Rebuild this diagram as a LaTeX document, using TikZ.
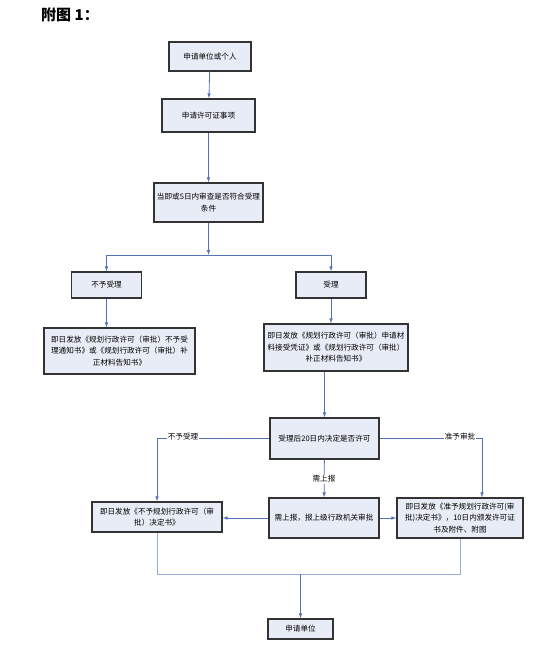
\documentclass[tikz,border=0pt]{standalone}
\usepackage{fontspec}
\setmainfont{Noto Sans CJK SC}
\usepackage{tikz}
\usetikzlibrary{arrows.meta}
\definecolor{boxfill}{HTML}{E8ECF6}
\definecolor{flowblue}{HTML}{5572B8}
\definecolor{paleblue}{HTML}{9AAAD6}
\tikzset{
  stepbox/.style={draw=black!80, line width=1.1pt, fill=boxfill, align=center, inner sep=1pt, font=\fontsize{7.6}{11.5}\selectfont},
  flow/.style={draw=flowblue, line width=0.8pt, -{Latex[length=5pt,width=3.6pt]}},
  plain/.style={draw=flowblue, line width=0.8pt},
  pale/.style={draw=paleblue, line width=0.9pt},
  tag/.style={fill=white, inner sep=1pt, font=\fontsize{7.6}{9}\selectfont}
}

\begin{document}
\begin{tikzpicture}[x=1pt,y=-1pt]
    \useasboundingbox (0,0) rectangle (553,666);
    \node[font=\bfseries\fontsize{15}{18}\selectfont] (title) at (70,15) {附图 1：};
    \node[stepbox, minimum width=82pt, minimum height=29pt] (apply) at (210,56.5) {申请单位或个人};
    \node[stepbox, minimum width=93pt, minimum height=33pt] (item) at (208.5,115.5) {申请许可证事项};
    \node[stepbox, minimum width=109pt, minimum height=39pt] (check) at (208.5,202.5) {当即或5日内审查是否符合受理\\条件};
    \node[stepbox, minimum width=70pt, minimum height=26pt] (reject) at (106.5,285) {不予受理};
    \node[stepbox, minimum width=70pt, minimum height=26pt] (accept) at (331,285) {受理};
    \node[stepbox, minimum width=151pt, minimum height=46pt] (rejnote) at (119.5,351) {即日发放《规划行政许可（审批）不予受\\理通知书》或《规划行政许可（审批）补\\正材料告知书》};
    \node[stepbox, minimum width=144pt, minimum height=47pt] (accnote) at (336,347.5) {即日发放《规划行政许可（审批）申请材\\料接受凭证》或《规划行政许可（审批）\\补正材料告知书》};
    \node[stepbox, minimum width=109pt, minimum height=41pt] (decide) at (324.5,438.5) {受理后20日内决定是否许可};
    \node[stepbox, minimum width=110pt, minimum height=40pt] (report) at (324,518) {需上报，报上级行政机关审批};
    \node[stepbox, minimum width=130pt, minimum height=30pt] (denied) at (157,517) {即日发放《不予规划行政许可（审\\批）决定书》};
    \node[stepbox, minimum width=126pt, minimum height=40pt] (granted) at (460,518) {即日发放《准予规划行政许可(审\\批)决定书》，10日内颁发许可证\\书及附件、附图};
    \node[stepbox, minimum width=65pt, minimum height=20pt] (final) at (300.5,629) {申请单位};
    \coordinate (split) at (check.south |- 0,255);
    \coordinate (join) at (final.north |- 0,574);
    \draw[flow] (apply) -- (item);
    \draw[flow] (item) -- (check);
    \draw[flow] (check) -- (split);
    \draw[plain] (reject.north |- split) -- (accept.north |- split);
    \draw[flow] (reject.north |- split) -- (reject);
    \draw[flow] (accept.north |- split) -- (accept);
    \draw[flow] (reject) -- (reject |- rejnote.north);
    \draw[flow] (accept) -- (accept |- accnote.north);
    \draw[flow] (decide.north |- accnote.south) -- (decide);
    \draw[flow] (decide.west) -| (denied.north);
    \draw[flow] (decide.east) -| ([xshift=22pt]granted.north);
    \draw[flow] (decide) -- (report);
    \draw[flow] (report) -- (report.west -| denied.east);
    \draw[flow] (report) -- (granted);
    \node[tag] at (183,437) {不予受理};
    \node[tag] at (460,437) {准予审批};
    \node[tag] at (324,479) {需上报};
    \draw[pale] (denied.south) -- (denied.south |- join) -- (granted.south |- join) -- (granted.south);
    \draw[flow] (join) -- (final);
\end{tikzpicture}
\end{document}
